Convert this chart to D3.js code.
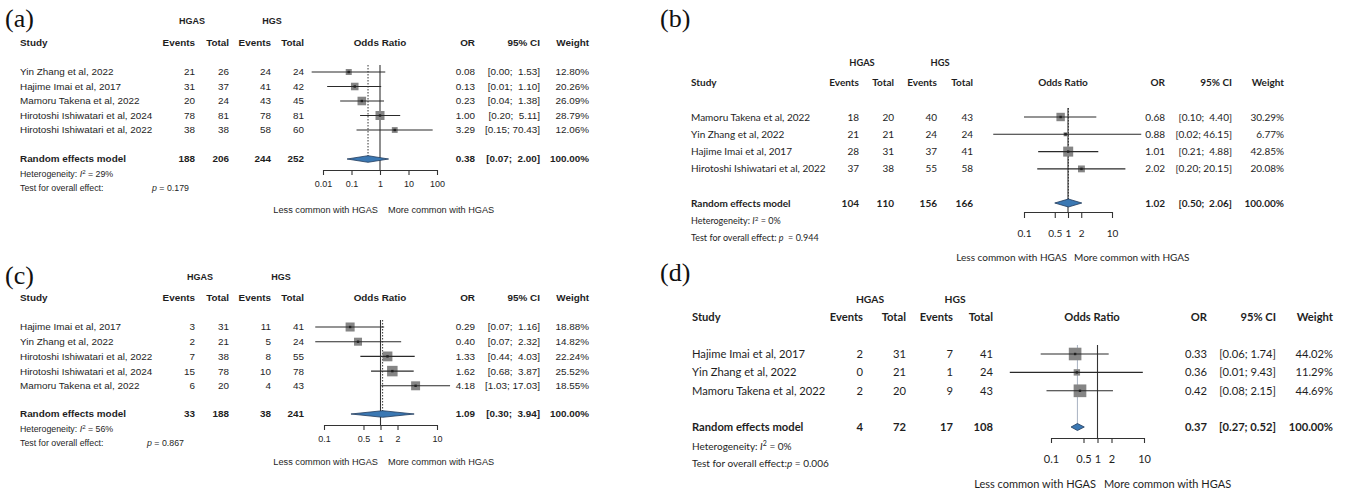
<!DOCTYPE html>
<html>
<head>
<meta charset="utf-8">
<script src="https://cdn.jsdelivr.net/npm/d3@7"></script>
<style>
  body { margin: 0; background: #fff; }
  svg text { white-space: pre; }
</style>
</head>
<body>
<svg id="fig" width="1348" height="494"></svg>
<script>
// ---------- (a) ----------
const studiesA   = ["Yin Zhang et al, 2022", "Hajime Imai et al, 2017", "Mamoru Takena et al, 2022", "Hirotoshi Ishiwatari et al, 2024", "Hirotoshi Ishiwatari et al, 2022"];
const eventsHgasA = [21, 31, 20, 78, 38];
const totalHgasA  = [26, 37, 24, 81, 38];
const eventsHgsA  = [24, 41, 43, 78, 58];
const totalHgsA   = [24, 42, 45, 81, 60];
const orA     = [0.08, 0.13, 0.23, 1.00, 3.29];
const ciLowA  = [0.004, 0.014, 0.04, 0.20, 0.15];
const ciHighA = [1.53, 1.10, 1.38, 5.11, 70.43];
const weightA = [12.80, 20.26, 26.09, 28.79, 12.06];
const pooledCountsA = [188, 206, 244, 252];
const pooledA = [0.38, 0.07, 2.00];
const i2A = "29%";
const pValueA = "0.179";
const ticksA = [0.01, 0.1, 1, 10, 100];

// ---------- (b) ----------
const studiesB   = ["Mamoru Takena et al, 2022", "Yin Zhang et al, 2022", "Hajime Imai et al, 2017", "Hirotoshi Ishiwatari et al, 2022"];
const eventsHgasB = [18, 21, 28, 37];
const totalHgasB  = [20, 21, 31, 38];
const eventsHgsB  = [40, 24, 37, 55];
const totalHgsB   = [43, 24, 41, 58];
const orB     = [0.68, 0.88, 1.01, 2.02];
const ciLowB  = [0.10, 0.02, 0.21, 0.20];
const ciHighB = [4.40, 46.15, 4.88, 20.15];
const weightB = [30.29, 6.77, 42.85, 20.08];
const pooledCountsB = [104, 110, 156, 166];
const pooledB = [1.02, 0.50, 2.06];
const i2B = "0%";
const pValueB = "0.944";
const ticksB = [0.1, 0.5, 1, 2, 10];

// ---------- (c) ----------
const studiesC   = ["Hajime Imai et al, 2017", "Yin Zhang et al, 2022", "Hirotoshi Ishiwatari et al, 2022", "Hirotoshi Ishiwatari et al, 2024", "Mamoru Takena et al, 2022"];
const eventsHgasC = [3, 2, 7, 15, 6];
const totalHgasC  = [31, 21, 38, 78, 20];
const eventsHgsC  = [11, 5, 8, 10, 4];
const totalHgsC   = [41, 24, 55, 78, 43];
const orC     = [0.29, 0.40, 1.33, 1.62, 4.18];
const ciLowC  = [0.07, 0.07, 0.44, 0.68, 1.03];
const ciHighC = [1.16, 2.32, 4.03, 3.87, 17.03];
const weightC = [18.88, 14.82, 22.24, 25.52, 18.55];
const pooledCountsC = [33, 188, 38, 241];
const pooledC = [1.09, 0.30, 3.94];
const i2C = "56%";
const pValueC = "0.867";
const ticksC = [0.1, 0.5, 1, 2, 10];

// ---------- (d) ----------
const studiesD   = ["Hajime Imai et al, 2017", "Yin Zhang et al, 2022", "Mamoru Takena et al, 2022"];
const eventsHgasD = [2, 0, 2];
const totalHgasD  = [31, 21, 20];
const eventsHgsD  = [7, 1, 9];
const totalHgsD   = [41, 24, 43];
const orD     = [0.33, 0.36, 0.42];
const ciLowD  = [0.06, 0.013, 0.08];
const ciHighD = [1.74, 9.43, 2.15];
const weightD = [44.02, 11.29, 44.69];
const pooledCountsD = [4, 72, 17, 108];
const pooledD = [0.37, 0.27, 0.52];
const i2D = "0%";
const pValueD = "0.006";
const ticksD = [0.1, 0.5, 1, 2, 10];

const INK = "#1e1e1e";
const ARIAL = "'Liberation Sans', Arial, sans-serif";
const CALI = "Lato, 'Noto Sans', sans-serif";
const svg = d3.select("#fig");
const f2 = v => v.toFixed(2);

function drawForest(L, D) {
  const g = svg.append("g").style("font-family", L.font).attr("fill", INK);
  const x = d3.scaleLog().domain([D.ticks[0], D.ticks[D.ticks.length - 1]]).range(L.axisRange);
  const rowY = i => L.row0 + i * L.rowStep;

  const text = (x0, y, s, o = {}) => g.append("text")
    .attr("x", x0).attr("y", y).attr("dy", "0.35em")
    .attr("text-anchor", o.anchor || "start")
    .attr("font-size", o.size || L.fs)
    .attr("font-weight", o.bold ? "bold" : null)
    .text(s);

  // panel letter
  g.append("text").attr("x", L.letter[0]).attr("y", L.letter[1])
    .style("font-family", "'Liberation Serif', 'Times New Roman', serif")
    .attr("font-size", 26).attr("fill", "#111").text(D.letter);

  // headings
  text(L.groupX[0], L.groupY, "HGAS", { anchor: "middle", bold: true, size: L.fsGroup });
  text(L.groupX[1], L.groupY, "HGS", { anchor: "middle", bold: true, size: L.fsGroup });
  text(L.studyX, L.headY, "Study", { bold: true, size: L.fsHead });
  ["Events", "Total", "Events", "Total"].forEach((h, k) =>
    text(L.cols[k], L.headY, h, { anchor: "end", bold: true, size: L.fsHead }));
  text(L.orHeadX, L.headY, "Odds Ratio", { anchor: "middle", bold: true, size: L.fsHead });
  text(L.orX, L.headY, "OR", { anchor: "end", bold: true, size: L.fsHead });
  text(L.ciX, L.headY, "95% CI", { anchor: "end", bold: true, size: L.fsHead });
  text(L.wX, L.headY, "Weight", { anchor: "end", bold: true, size: L.fsHead });

  // confidence interval labels, upper bound padded for alignment
  const hiW = d3.max(D.hi.concat([D.pooled[2]]), v => f2(v).length);
  const ciLabel = (lo, hi) => `[${f2(lo)}; ${f2(hi).padStart(hiW)}]`;

  // study rows
  D.studies.forEach((s, i) => {
    const y = rowY(i);
    text(L.studyX, y, s);
    [D.eh[i], D.th[i], D.eg[i], D.tg[i]].forEach((v, k) => text(L.cols[k], y, v, { anchor: "end" }));
    text(L.orX, y, f2(D.or[i]), { anchor: "end" });
    text(L.ciX, y, ciLabel(D.lo[i], D.hi[i]), { anchor: "end" });
    text(L.wX, y, f2(D.w[i]) + "%", { anchor: "end" });
  });

  // pooled row
  text(L.studyX, L.pooledY, "Random effects model", { bold: true });
  D.pooledCounts.forEach((v, k) => text(L.cols[k], L.pooledY, v, { anchor: "end", bold: true }));
  text(L.orX, L.pooledY, f2(D.pooled[0]), { anchor: "end", bold: true });
  text(L.ciX, L.pooledY, ciLabel(D.pooled[1], D.pooled[2]), { anchor: "end", bold: true });
  text(L.wX, L.pooledY, "100.00%", { anchor: "end", bold: true });

  // heterogeneity and overall test
  const het = text(L.studyX, L.hetY, "Heterogeneity: ", { size: L.fsSmall });
  het.append("tspan").attr("font-style", "italic").text("I");
  het.append("tspan").attr("dy", -L.fsSmall * 0.4).attr("font-size", L.fsSmall * 0.7).text("2");
  het.append("tspan").attr("dy", L.fsSmall * 0.4).text(" = " + D.i2);

  const test = text(L.studyX, L.testY, "Test for overall effect:" + L.pLead, { size: L.fsSmall });
  const pText = L.pX != null ? text(L.pX, L.testY, "", { size: L.fsSmall }) : test;
  pText.append("tspan").attr("font-style", "italic").text("p");
  pText.append("tspan").text(L.pEq + D.p);

  // reference lines
  g.append("line").attr("x1", x(1)).attr("x2", x(1)).attr("y1", L.vTop).attr("y2", L.axisY)
    .attr("stroke", "#333").attr("stroke-width", 1.1);
  g.append("line").attr("x1", x(D.pooled[0])).attr("x2", x(D.pooled[0]))
    .attr("y1", L.vTop).attr("y2", L.pooledY)
    .attr("stroke", L.pooledStroke).attr("stroke-width", 1)
    .attr("stroke-dasharray", L.pooledDash);

  // study boxes sized by weight, then interval lines
  const wMax = d3.max(D.w);
  const side = w => L.boxMax * Math.sqrt(w / wMax);
  g.selectAll("rect.box").data(D.or).join("rect").attr("class", "box")
    .attr("x", (d, i) => x(d) - side(D.w[i]) / 2)
    .attr("y", (d, i) => rowY(i) - side(D.w[i]) / 2)
    .attr("width", (d, i) => side(D.w[i]))
    .attr("height", (d, i) => side(D.w[i]))
    .attr("fill", "#858585");
  g.selectAll("line.ci").data(D.or).join("line").attr("class", "ci")
    .attr("x1", (d, i) => x(D.lo[i])).attr("x2", (d, i) => x(D.hi[i]))
    .attr("y1", (d, i) => rowY(i)).attr("y2", (d, i) => rowY(i))
    .attr("stroke", "#2a2a2a").attr("stroke-width", 1.1);
  g.selectAll("rect.pt").data(D.or).join("rect").attr("class", "pt")
    .attr("x", d => x(d) - 1.2).attr("y", (d, i) => rowY(i) - 1.2)
    .attr("width", 2.4).attr("height", 2.4).attr("fill", "#222");

  // pooled diamond
  const [pe, plo, phi] = D.pooled;
  const y0 = L.pooledY;
  g.append("path")
    .attr("d", `M${x(plo)},${y0}L${x(pe)},${y0 - L.dh}L${x(phi)},${y0}L${x(pe)},${y0 + L.dh}Z`)
    .attr("fill", "#3b78b3").attr("stroke", "#1f3a5c").attr("stroke-width", 0.8);

  // log axis
  const axis = d3.axisBottom(x).tickValues(D.ticks).tickFormat(d => String(d))
    .tickSize(L.tick).tickSizeOuter(0)
    .tickPadding(L.labelY - L.axisY - L.tick - L.fsTick * 0.36);
  const ag = g.append("g").attr("transform", `translate(0,${L.axisY})`).call(axis)
    .attr("font-family", null).attr("font-size", null);
  ag.select(".domain").attr("stroke", "#333").attr("stroke-width", 1.1);
  ag.selectAll(".tick line").attr("stroke", "#333").attr("stroke-width", 1.1);
  ag.selectAll(".tick text").attr("fill", INK).attr("font-size", L.fsTick).style("font-family", L.font);

  // direction labels
  text(L.dirLessX, L.dirY, "Less common with HGAS", { anchor: "end", size: L.fsDir });
  text(L.dirMoreX, L.dirY, "More common with HGAS", { anchor: "start", size: L.fsDir });
}

const pack = (letter, studies, eh, th, eg, tg, or, lo, hi, w, pooledCounts, pooled, i2, p, ticks) =>
  ({ letter, studies, eh, th, eg, tg, or, lo, hi, w, pooledCounts, pooled, i2, p, ticks });

// layouts
const layoutA = {
  font: ARIAL, fs: 9.9, fsHead: 9.9, fsGroup: 9, fsSmall: 8.8, fsTick: 9, fsDir: 9.2,
  letter: [5, 27], groupY: 21, groupX: [192, 272], headY: 43, studyX: 20,
  cols: [195, 229, 271, 304], orHeadX: 380, orX: 475, ciX: 540, wX: 589,
  row0: 72, rowStep: 14.5, pooledY: 159, hetY: 174, testY: 188, pX: 152, pLead: "", pEq: " = ",
  axisRange: [323, 437], axisY: 170, tick: 5, labelY: 184, vTop: 65,
  dirY: 210, dirLessX: 378, dirMoreX: 388, boxMax: 9, dh: 3.3,
  pooledStroke: "#333", pooledDash: "1.5,1.5"
};
const layoutC = Object.assign({}, layoutA, {
  letter: [5, 284], groupY: 277, groupX: [200, 281], headY: 298,
  row0: 327, rowStep: 14.7, pooledY: 414, hetY: 429, testY: 443, pX: 147,
  axisRange: [324, 437], axisY: 425, labelY: 439, vTop: 320,
  dirY: 462, boxMax: 10.5
});
const layoutB = {
  font: CALI, fs: 10, fsHead: 10, fsGroup: 9.3, fsSmall: 9, fsTick: 10, fsDir: 10,
  letter: [660, 27], groupY: 63, groupX: [862, 940], headY: 82, studyX: 691,
  cols: [859, 894, 937, 973], orHeadX: 1063, orX: 1165, ciX: 1232, wX: 1284,
  row0: 117, rowStep: 17.3, pooledY: 203, hetY: 221, testY: 238, pX: null, pLead: " ", pEq: "  = ",
  axisRange: [1024, 1112], axisY: 212, tick: 6, labelY: 233, vTop: 108,
  dirY: 257, dirLessX: 1067, dirMoreX: 1074, boxMax: 10, dh: 4,
  pooledStroke: "#333", pooledDash: "1.5,1.5"
};
const layoutD = Object.assign({}, layoutB, {
  fs: 11.2, fsHead: 11.2, fsGroup: 10.3, fsSmall: 10, fsTick: 11, fsDir: 11,
  letter: [660, 281], groupY: 299, groupX: [870, 955], headY: 317, studyX: 692,
  cols: [863, 906, 953, 993], orHeadX: 1092, orX: 1207, ciX: 1276, wX: 1333,
  row0: 354, rowStep: 18.4, pooledY: 427, hetY: 446, testY: 463, pLead: "", pEq: " = ",
  axisRange: [1051, 1144], axisY: 438, tick: 5, labelY: 459, vTop: 345,
  dirY: 484, dirLessX: 1096, dirMoreX: 1104, boxMax: 12.7, dh: 3.5,
  pooledStroke: "#a9b3c2", pooledDash: null
});

drawForest(layoutA, pack("(a)", studiesA, eventsHgasA, totalHgasA, eventsHgsA, totalHgsA, orA, ciLowA, ciHighA, weightA, pooledCountsA, pooledA, i2A, pValueA, ticksA));
drawForest(layoutB, pack("(b)", studiesB, eventsHgasB, totalHgasB, eventsHgsB, totalHgsB, orB, ciLowB, ciHighB, weightB, pooledCountsB, pooledB, i2B, pValueB, ticksB));
drawForest(layoutC, pack("(c)", studiesC, eventsHgasC, totalHgasC, eventsHgsC, totalHgsC, orC, ciLowC, ciHighC, weightC, pooledCountsC, pooledC, i2C, pValueC, ticksC));
drawForest(layoutD, pack("(d)", studiesD, eventsHgasD, totalHgasD, eventsHgsD, totalHgsD, orD, ciLowD, ciHighD, weightD, pooledCountsD, pooledD, i2D, pValueD, ticksD));
</script>
</body>
</html>
